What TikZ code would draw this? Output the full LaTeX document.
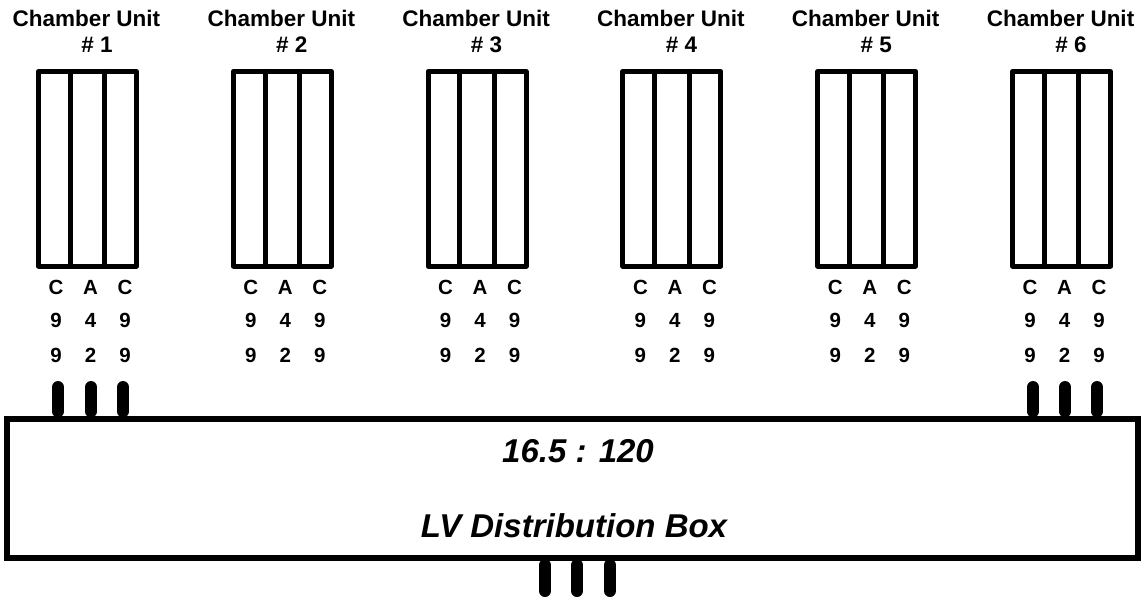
\documentclass[tikz,border=0pt]{standalone}
\usepackage{fontspec}
\setmainfont{Liberation Sans}
\usetikzlibrary{calc}
\tikzset{
  chamberbox/.style={draw, line width=5pt, line join=round, rectangle, inner sep=0pt,
    minimum width=98pt, minimum height=194.5pt},
  divider/.style={line width=5pt},
  stub/.style={line width=12pt, line cap=round},
  title/.style={font=\fontsize{22.5}{26}\selectfont\bfseries, anchor=base, inner sep=0pt},
  pin/.style={font=\fontsize{20.5}{24}\selectfont\bfseries, anchor=base, inner sep=0pt},
  boxtext/.style={font=\fontsize{33}{38}\selectfont\bfseries\itshape, anchor=base, inner sep=0pt},
  distbox/.style={draw, line width=6pt, rectangle, inner sep=0pt,
    minimum width=1131.5pt, minimum height=139.5pt}
}
\begin{document}
\begin{tikzpicture}[x=1pt,y=-1pt]
\useasboundingbox (0,0) rectangle (1142,599);
% distribution box
\node[distbox] (box) at (572.25,488.25) {};
\node[boxtext] (ratio) at (578,462) {16.5 : 120};
\node[boxtext] (lv) at (574,537) {LV Distribution Box};
% chamber units
\foreach \i in {1,...,6}{
  \pgfmathsetmacro{\L}{38.5+194.8*(\i-1)}
  \node[chamberbox] (ch\i) at (\L+49,168.75) {};
  \draw[divider] ($(ch\i.north west)!1/3!(ch\i.north east)$) -- ($(ch\i.south west)!1/3!(ch\i.south east)$);
  \draw[divider] ($(ch\i.north west)!2/3!(ch\i.north east)$) -- ($(ch\i.south west)!2/3!(ch\i.south east)$);
  \node[title] (t\i) at (\L+48,27) {Chamber Unit};
  \node[title] (n\i) at (\L+58.5,53) {\# \i};
  \node[pin] (pa\i) at (\L+17.5,294) {C};
  \node[pin] (pb\i) at (\L+52,294) {A};
  \node[pin] (pc\i) at (\L+86.5,294) {C};
  \node[pin] (qa\i) at (\L+17.5,327) {9};
  \node[pin] (qb\i) at (\L+52,327) {4};
  \node[pin] (qc\i) at (\L+86.5,327) {9};
  \node[pin] (ra\i) at (\L+17.5,362) {9};
  \node[pin] (rb\i) at (\L+52,362) {2};
  \node[pin] (rc\i) at (\L+86.5,362) {9};
}
% stubs on chamber unit 1 and 6
\foreach \x [count=\k] in {58,91,123,1033,1065,1097}{
  \coordinate (top\k) at (\x,387);
  \draw[stub, shorten >=4pt] (top\k) -- (top\k |- box.north);
}
% stubs below the box
\foreach \x [count=\k] in {545,577,610}{
  \coordinate (bot\k) at (\x,591);
  \draw[stub, shorten >=4pt] (bot\k) -- (bot\k |- box.south);
}
\end{tikzpicture}
\end{document}
